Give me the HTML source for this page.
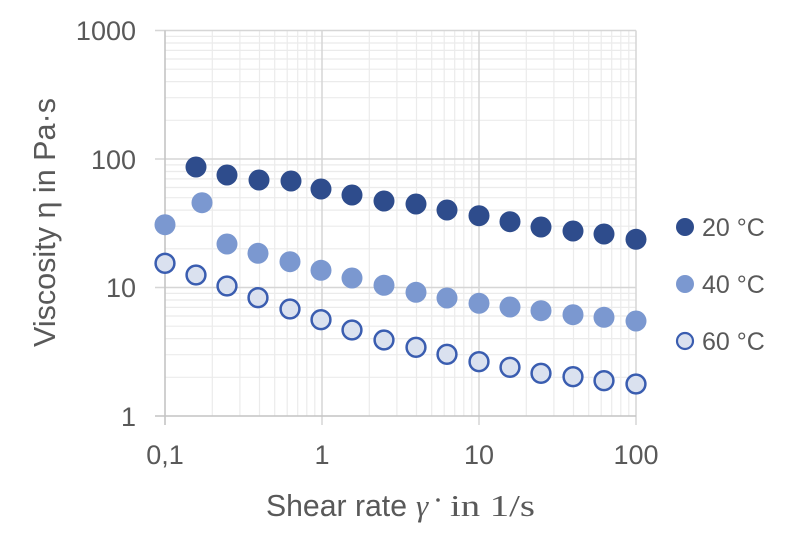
<!DOCTYPE html>
<html><head><meta charset="utf-8"><style>
html,body{margin:0;padding:0;background:#fff;}
svg{display:block;}
text{font-family:"Liberation Sans",sans-serif;fill:#595959;}
</style></head><body>
<svg width="786" height="551" viewBox="0 0 786 551" xmlns="http://www.w3.org/2000/svg">
<rect width="786" height="551" fill="#fff"/>
<path fill="none" stroke="#ebebeb" stroke-width="1.2" d="
M212.3 30.5V416M239.9 30.5V416M259.5 30.5V416M274.7 30.5V416M287.2 30.5V416M297.7 30.5V416M306.8 30.5V416M314.8 30.5V416
M369.3 30.5V416M396.9 30.5V416M416.5 30.5V416M431.7 30.5V416M444.2 30.5V416M454.7 30.5V416M463.8 30.5V416M471.8 30.5V416
M526.3 30.5V416M553.9 30.5V416M573.5 30.5V416M588.7 30.5V416M601.2 30.5V416M611.7 30.5V416M620.8 30.5V416M628.8 30.5V416
M165 377.3H636M165 354.7H636M165 338.6H636M165 326.2H636M165 316H636M165 307.4H636M165 300H636M165 293.4H636
M165 248.8H636M165 226.2H636M165 210.1H636M165 197.7H636M165 187.5H636M165 178.9H636M165 171.5H636M165 164.9H636
M165 120.3H636M165 97.7H636M165 81.6H636M165 69.2H636M165 59H636M165 50.4H636M165 43H636M165 36.4H636"/>
<path fill="none" stroke="#d6d6d6" stroke-width="1.5" d="
M322 30.5V425M479 30.5V425M636 30.5V425
M155 30.5H636M155 159H636M155 287.5H636"/>
<path fill="none" stroke="#c4c4c4" stroke-width="1.6" d="M165 30.5V425M155 416H636"/>
<g font-size="27" text-anchor="end">
<text x="136" y="40">1000</text>
<text x="136" y="169">100</text>
<text x="136" y="297">10</text>
<text x="136" y="426">1</text>
</g>
<g font-size="27" text-anchor="middle">
<text x="165" y="464">0,1</text>
<text x="322" y="464">1</text>
<text x="479" y="464">10</text>
<text x="636" y="464">100</text>
</g>
<text x="266" y="516" font-size="31" textLength="141" lengthAdjust="spacingAndGlyphs">Shear rate</text>
<text x="416" y="516" font-size="31" font-style="italic" style="font-family:'Liberation Serif',serif">γ</text>
<circle cx="438" cy="500" r="1.8" fill="#595959"/>
<text x="450" y="516" font-size="31" textLength="85" lengthAdjust="spacingAndGlyphs" style="font-family:'Liberation Serif',serif">in 1/s</text>
<text transform="translate(55,347) rotate(-90)" font-size="31" textLength="249" lengthAdjust="spacingAndGlyphs">Viscosity η  in Pa·s</text>
<g fill="#2e4c8c">
<circle cx="196" cy="167" r="10.5"/><circle cx="227" cy="175" r="10.5"/><circle cx="259" cy="180" r="10.5"/><circle cx="291" cy="181" r="10.5"/><circle cx="321" cy="189" r="10.5"/><circle cx="352" cy="195" r="10.5"/><circle cx="384" cy="201" r="10.5"/><circle cx="416" cy="204" r="10.5"/><circle cx="447" cy="210" r="10.5"/><circle cx="479" cy="215.7" r="10.5"/><circle cx="510" cy="221.7" r="10.5"/><circle cx="541" cy="227" r="10.5"/><circle cx="573" cy="231" r="10.5"/><circle cx="604" cy="234" r="10.5"/><circle cx="636" cy="239.3" r="10.5"/>
</g>
<g fill="#7b98d0">
<circle cx="165" cy="224.7" r="10.5"/><circle cx="202" cy="202.7" r="10.5"/><circle cx="227" cy="244" r="10.5"/><circle cx="258" cy="253.3" r="10.5"/><circle cx="290" cy="261.7" r="10.5"/><circle cx="321" cy="270.3" r="10.5"/><circle cx="352" cy="278" r="10.5"/><circle cx="384" cy="285.3" r="10.5"/><circle cx="416" cy="292.3" r="10.5"/><circle cx="447" cy="298" r="10.5"/><circle cx="479" cy="303.3" r="10.5"/><circle cx="510" cy="307" r="10.5"/><circle cx="541" cy="310.7" r="10.5"/><circle cx="573" cy="314.7" r="10.5"/><circle cx="604" cy="317.3" r="10.5"/><circle cx="636" cy="321" r="10.5"/>
</g>
<g fill="#dae1ef" stroke="#3a5db0" stroke-width="2.5">
<circle cx="165" cy="263.3" r="9.4"/><circle cx="196" cy="275" r="9.4"/><circle cx="227" cy="286" r="9.4"/><circle cx="258" cy="297.7" r="9.4"/><circle cx="290" cy="309" r="9.4"/><circle cx="321" cy="319.7" r="9.4"/><circle cx="352" cy="330" r="9.4"/><circle cx="384" cy="340" r="9.4"/><circle cx="416" cy="347.3" r="9.4"/><circle cx="447" cy="354.3" r="9.4"/><circle cx="479" cy="361.7" r="9.4"/><circle cx="510" cy="367.3" r="9.4"/><circle cx="541" cy="373.3" r="9.4"/><circle cx="573" cy="376.7" r="9.4"/><circle cx="604" cy="380.7" r="9.4"/><circle cx="636" cy="384" r="9.4"/>
</g>
<circle cx="685" cy="227" r="9" fill="#2e4c8c"/>
<circle cx="685" cy="284" r="9" fill="#7b98d0"/>
<circle cx="685" cy="341" r="8" fill="#dae1ef" stroke="#3a5db0" stroke-width="2.2"/>
<g font-size="25">
<text x="702" y="236">20 °C</text>
<text x="702" y="293">40 °C</text>
<text x="702" y="350">60 °C</text>
</g>
</svg>
</body></html>
